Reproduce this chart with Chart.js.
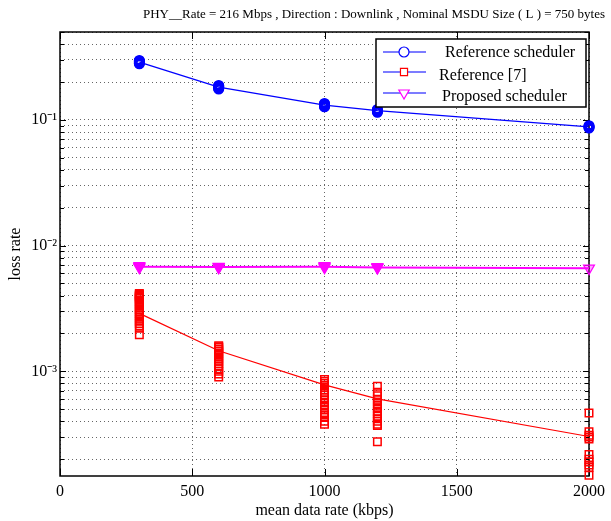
<!DOCTYPE html>
<html>
<head>
<meta charset="utf-8">
<script src="https://cdn.jsdelivr.net/npm/chart.js@4.4.0/dist/chart.umd.min.js"></script>
<style>
  html, body { margin: 0; padding: 0; background: #fff; }
</style>
</head>
<body>
<canvas id="loss-chart" width="611" height="521"></canvas>
<script>
// Mean data rates (kbps) of the simulated flows
const rates = [300, 600, 1000, 1200, 2000];

// Reference scheduler: mean loss rate and the individual runs
const refSchedMean = [0.288, 0.182, 0.131, 0.1186, 0.088];
const refSchedRuns = [
    [0.279, 0.282, 0.285, 0.288, 0.291, 0.294, 0.297],
    [0.176, 0.178, 0.180, 0.182, 0.184, 0.186, 0.188],
    [0.127, 0.128, 0.130, 0.131, 0.132, 0.134, 0.135],
    [0.115, 0.116, 0.118, 0.119, 0.120, 0.121],
    [0.086, 0.087, 0.088, 0.089, 0.090]
];

// Reference [7]
const ref7Mean = [0.00289, 0.001457, 0.000781, 0.000604, 0.000303];
const ref7Runs = [
    [0.00415, 0.0041, 0.00405, 0.004, 0.00395, 0.0039, 0.00385, 0.0038, 0.0037, 0.0036, 0.0035,
     0.0034, 0.0033, 0.0032, 0.0031, 0.003, 0.0029, 0.0028, 0.0027, 0.0026, 0.0025, 0.0024,
     0.0023, 0.0022, 0.00195],
    [0.0016, 0.00157, 0.00155, 0.0015, 0.00145, 0.0014, 0.00135, 0.0013, 0.00125, 0.0012,
     0.00115, 0.0011, 0.00105, 0.001, 0.00095, 0.0009],
    [0.00086, 0.00083, 0.0008, 0.00077, 0.00074, 0.00071, 0.00068, 0.00065, 0.00062, 0.00059,
     0.00056, 0.00053, 0.0005, 0.00047, 0.00045, 0.00043, 0.0004, 0.00038],
    [0.00076, 0.00068, 0.00064, 0.0006, 0.00057, 0.00054, 0.00051, 0.00048, 0.00046, 0.00044,
     0.00042, 0.0004, 0.00038, 0.00037, 0.000275],
    [0.000466, 0.00033, 0.00031, 0.0003, 0.00029, 0.000218, 0.0002, 0.00019, 0.00018, 0.000172, 0.000149]
];

// Proposed scheduler
const proposedMean = [0.0068, 0.00675, 0.0068, 0.0067, 0.0066];
const proposedRuns = [
    [0.0067, 0.0068, 0.0069],
    [0.00668, 0.00675, 0.00682],
    [0.0067, 0.0068, 0.0069],
    [0.00665, 0.0067, 0.00678],
    [0.0066]
];

const xTicks = [0, 500, 1000, 1500, 2000];
const yMin = 1.47e-4;
const yMax = 0.5;

const FONT = "'Liberation Serif', 'Times New Roman', serif";
const titleText = 'PHY__Rate = 216 Mbps , Direction : Downlink , Nominal MSDU Size ( L ) = 750 bytes';

const BLUE = '#0000ff';
const RED = '#ff0000';
const MAGENTA = '#ff00ff';
const GRID = 'rgba(0,0,0,0.6)';

const SUP = { '-': '\u207b', '0': '\u2070', '1': '\u00b9', '2': '\u00b2', '3': '\u00b3', '4': '\u2074' };
const powerLabel = (exp) => '10' + String(exp).split('').map(c => SUP[c]).join('');

const toPoints = (runs) => runs.flatMap((vals, i) => vals.map(v => ({ x: rates[i], y: v })));
const toLine = (means) => means.map((v, i) => ({ x: rates[i], y: v }));

const isDecade = (v) => Math.abs(Math.log10(v) - Math.round(Math.log10(v))) < 1e-9;

// Title above the plot, right-aligned near the canvas edge
const titlePlugin = {
    id: 'plotTitle',
    afterDraw(chart) {
        const { ctx } = chart;
        ctx.save();
        ctx.font = `13px ${FONT}`;
        ctx.fillStyle = '#000';
        ctx.textAlign = 'right';
        ctx.textBaseline = 'middle';
        ctx.fillText(titleText, 605, 15);
        ctx.restore();
    }
};

// Frame around the plot area plus inward tick marks on all four sides
const framePlugin = {
    id: 'plotFrame',
    beforeDatasetsDraw(chart) {
        const { ctx, chartArea: a, scales } = chart;
        ctx.save();
        ctx.strokeStyle = '#000';
        ctx.lineWidth = 1;
        ctx.beginPath();
        scales.y.ticks.forEach(t => {
            const py = Math.round(scales.y.getPixelForValue(t.value)) + 0.5;
            const len = isDecade(t.value) ? 6 : 4;
            ctx.moveTo(a.left, py); ctx.lineTo(a.left + len, py);
            ctx.moveTo(a.right, py); ctx.lineTo(a.right - len, py);
        });
        scales.x.ticks.forEach(t => {
            const px = Math.round(scales.x.getPixelForValue(t.value)) + 0.5;
            ctx.moveTo(px, a.bottom); ctx.lineTo(px, a.bottom - 7);
            ctx.moveTo(px, a.top); ctx.lineTo(px, a.top + 7);
        });
        ctx.stroke();
        ctx.lineWidth = 1.5;
        ctx.strokeRect(a.left, a.top, a.right - a.left, a.bottom - a.top);
        ctx.restore();
    }
};

// Boxed legend, line with hollow marker for each series
const legendItems = [
    { text: 'Reference scheduler', marker: 'circle', color: BLUE, dy: 1, tx: 0 },
    { text: 'Reference [7]', marker: 'rect', color: RED, dy: 4, tx: -6 },
    { text: 'Proposed scheduler', marker: 'triangle', color: MAGENTA, dy: 4, tx: -3 }
];
const legendPlugin = {
    id: 'boxLegend',
    afterDatasetsDraw(chart) {
        const { ctx, chartArea: a } = chart;
        const left = 376, top = 39, right = a.right - 3, bottom = 107;
        const rows = [52, 72, 93];
        ctx.save();
        ctx.fillStyle = '#fff';
        ctx.fillRect(left, top, right - left, bottom - top);
        ctx.strokeStyle = '#000';
        ctx.lineWidth = 1.5;
        ctx.strokeRect(left, top, right - left, bottom - top);
        legendItems.forEach((item, i) => {
            const y = rows[i];
            ctx.strokeStyle = '#5050ff';
            ctx.lineWidth = 1.5;
            ctx.beginPath();
            ctx.moveTo(383, y); ctx.lineTo(426, y);
            ctx.stroke();
            ctx.fillStyle = '#fff';
            ctx.strokeStyle = item.color;
            ctx.lineWidth = 1.2;
            Chart.helpers.drawPoint(ctx, {
                pointStyle: item.marker,
                radius: item.marker === 'triangle' ? 6 : 5,
                rotation: item.marker === 'triangle' ? 180 : 0,
                borderWidth: 1.2
            }, 404, y);
            ctx.fillStyle = '#000';
            ctx.font = `16px ${FONT}`;
            ctx.textBaseline = 'middle';
            ctx.textAlign = 'left';
            ctx.fillText(item.text, 445 + item.tx, y + item.dy);
        });
        ctx.restore();
    }
};

const ctx = document.getElementById('loss-chart').getContext('2d');
new Chart(ctx, {
    type: 'scatter',
    data: {
        datasets: [
            {
                label: 'Reference scheduler',
                type: 'line',
                data: toLine(refSchedMean),
                borderColor: BLUE,
                borderWidth: 1.3,
                pointRadius: 0,
                tension: 0
            },
            {
                label: 'Reference scheduler runs',
                data: toPoints(refSchedRuns),
                pointStyle: 'circle',
                pointRadius: 4,
                borderColor: BLUE,
                borderWidth: 3,
                backgroundColor: 'rgba(0,0,0,0)',
                clip: false
            },
            {
                label: 'Reference [7]',
                type: 'line',
                data: toLine(ref7Mean),
                borderColor: RED,
                borderWidth: 1.2,
                pointRadius: 0,
                tension: 0
            },
            {
                label: 'Reference [7] runs',
                data: toPoints(ref7Runs),
                pointStyle: 'rect',
                pointRadius: 5.3,
                borderColor: RED,
                borderWidth: 1.5,
                backgroundColor: 'rgba(0,0,0,0)',
                clip: false
            },
            {
                label: 'Proposed scheduler',
                type: 'line',
                data: toLine(proposedMean),
                borderColor: MAGENTA,
                borderWidth: 2,
                pointRadius: 0,
                tension: 0
            },
            {
                label: 'Proposed scheduler runs',
                data: toPoints(proposedRuns),
                pointStyle: 'triangle',
                pointRotation: 180,
                pointRadius: 6.3,
                borderColor: MAGENTA,
                borderWidth: 1.2,
                backgroundColor: (c) => (c.raw && c.raw.x === 2000 ? 'rgba(255,0,255,0.35)' : MAGENTA),
                clip: false
            }
        ]
    },
    options: {
        responsive: false,
        animation: false,
        layout: { padding: { top: 32, right: 19, bottom: 0, left: 0 } },
        plugins: {
            legend: { display: false },
            title: { display: false },
            tooltip: { enabled: false }
        },
        scales: {
            x: {
                type: 'linear',
                min: 0,
                max: 2000,
                afterBuildTicks: (scale) => { scale.ticks = xTicks.map(v => ({ value: v })); },
                afterFit: (scale) => { scale.height = 45; },
                grid: { color: GRID, lineWidth: 1, drawTicks: false },
                border: { display: false, dash: [1, 3] },
                ticks: {
                    color: '#000',
                    padding: 6,
                    maxRotation: 0,
                    font: { family: FONT, size: 16 },
                    callback: (v) => String(v)
                },
                title: {
                    display: true,
                    text: 'mean data rate (kbps)',
                    color: '#000',
                    font: { family: FONT, size: 16 },
                    padding: { top: 0, bottom: 1 }
                }
            },
            y: {
                type: 'logarithmic',
                min: yMin,
                max: yMax,
                afterBuildTicks: (scale) => {
                    const ticks = [];
                    for (let e = -4; e <= -1; e++) {
                        for (let m = 1; m <= 9; m++) {
                            const v = m * Math.pow(10, e);
                            if (v >= yMin && v <= yMax * 1.0001) ticks.push({ value: v });
                        }
                    }
                    scale.ticks = ticks;
                },
                afterFit: (scale) => { scale.width = 60; },
                grid: { color: GRID, lineWidth: 1, drawTicks: false },
                border: { display: false, dash: [1, 3] },
                ticks: {
                    color: '#000',
                    padding: 3,
                    autoSkip: false,
                    font: { family: FONT, size: 16 },
                    callback: (v) => (isDecade(v) ? powerLabel(Math.round(Math.log10(v))) : '')
                },
                title: {
                    display: true,
                    text: 'loss rate',
                    color: '#000',
                    font: { family: FONT, size: 16 },
                    padding: { top: 6, bottom: 0 }
                }
            }
        }
    },
    plugins: [framePlugin, legendPlugin, titlePlugin]
});
</script>
</body>
</html>
